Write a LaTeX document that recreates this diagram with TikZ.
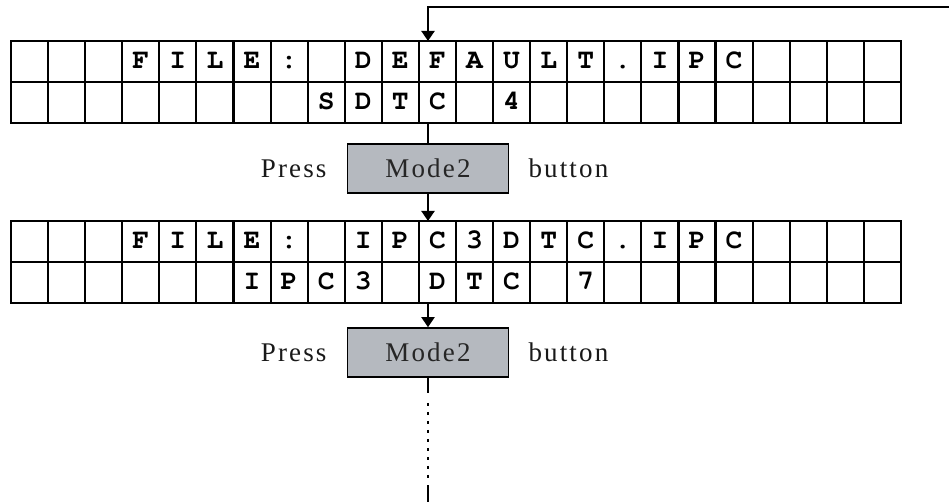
\documentclass[tikz,border=0pt]{standalone}
\usepackage{fontspec}
\usepackage{tikz}
\usetikzlibrary{positioning,arrows.meta}
\newfontfamily\lcdfont{TeX Gyre Cursor}
\newfontfamily\pressfont[LetterSpace=8]{Liberation Serif}
\definecolor{btngray}{RGB}{181,185,191}

\tikzset{
  cell/.style={draw,line width=2.1pt,minimum width=37.08pt,minimum height=41pt,
    inner sep=0pt,outer sep=0pt,font=\lcdfont\bfseries\fontsize{28}{28}\selectfont,
    text height=15pt,text depth=0pt},
  btn/.style={draw,line width=1.6pt,fill=btngray,minimum width=161pt,minimum height=49pt,
    inner sep=0pt,font=\pressfont\fontsize{27}{30}\selectfont,text=black!85},
  lbl/.style={font=\pressfont\fontsize{27}{30}\selectfont,inner sep=0pt,text=black!90},
  flow/.style={line width=2pt},
}

\begin{document}
\begin{tikzpicture}[x=1pt,y=-1pt,>={Triangle[length=10pt,width=13pt]}]
\useasboundingbox (0,0) rectangle (949,502);
% first screen
\foreach \ch [count=\i from 0] in {{},{},{},F,I,L,E,:,{},D,E,F,A,U,L,T,.,I,P,C,{},{},{},{}}
  \node[cell] (a1-\i) at ({29.54+37.08*\i},61.5) {\ch};
\foreach \ch [count=\i from 0] in {{},{},{},{},{},{},{},{},S,D,T,C,{},4,{},{},{},{},{},{},{},{},{},{}}
  \node[cell] (a2-\i) at ({29.54+37.08*\i},102.5) {\ch};
% second screen
\foreach \ch [count=\i from 0] in {{},{},{},F,I,L,E,:,{},I,P,C,3,D,T,C,.,I,P,C,{},{},{},{}}
  \node[cell] (b1-\i) at ({29.54+37.08*\i},241.5) {\ch};
\foreach \ch [count=\i from 0] in {{},{},{},{},{},{},I,P,C,3,{},D,T,C,{},7,{},{},{},{},{},{},{},{}}
  \node[cell] (b2-\i) at ({29.54+37.08*\i},282.5) {\ch};

% buttons
\node[btn] (btn1) at (428,168.5) {Mode2};
\node[lbl,left=20pt of btn1] (press1) {Press};
\node[lbl,right=19pt of btn1] (button1) {button};
\node[btn] (btn2) at (428,352.5) {Mode2};
\node[lbl,left=20pt of btn2] (press2) {Press};
\node[lbl,right=19pt of btn2] (button2) {button};

% flow lines
\coordinate (loop) at (949,7);
\coordinate (cont) at (428,502);
\draw[flow,->] (loop) -| (btn1.north |- a1-11.north);
\draw[flow] (btn1.north |- a2-11.south) -- (btn1.north);
\draw[flow,->] (btn1.south) -- (btn1.south |- b1-11.north);
\draw[flow,->] (btn2.north |- b2-11.south) -- (btn2.north);
\draw[flow] (btn2.south) -- ++(0,15);
\draw[flow,dash pattern=on 3.5pt off 5.5pt] (btn2.south) ++(0,25) -- ++(0,78);
\draw[flow] (cont) -- ++(0,-17);
\end{tikzpicture}
\end{document}
